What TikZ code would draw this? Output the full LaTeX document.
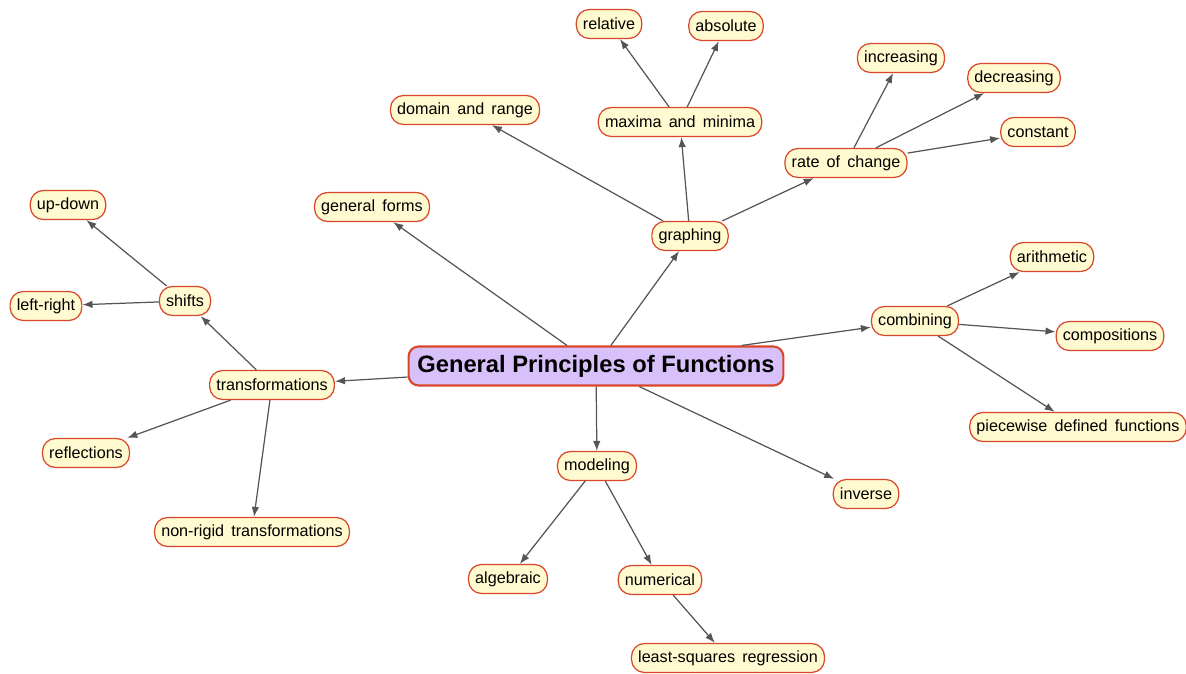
\documentclass[tikz,border=0pt]{standalone}
\usepackage{fontspec}
\setmainfont{Liberation Sans}[WordSpace=1.6]
\newfontfamily\hubfont{Liberation Sans}
\usetikzlibrary{arrows.meta}
\definecolor{leaffill}{HTML}{FFFACF}
\definecolor{hubfill}{HTML}{D8C0FB}
\definecolor{rim}{HTML}{D9472B}
\definecolor{wire}{HTML}{555555}
\begin{document}
\begin{tikzpicture}[x=0.02cm, y=-0.02cm,
        topic/.style={draw=rim, fill=leaffill, line width=0.7pt, rounded corners=0.26cm,
            minimum height=0.58cm, inner xsep=3.8pt, font=\fontsize{9.2}{11}\selectfont},
        hub/.style={draw=rim, fill=hubfill, line width=1.2pt, rounded corners=0.2cm,
            minimum height=0.78cm, inner xsep=5pt, font=\hubfont\fontsize{13.5}{16}\selectfont\bfseries},
        link/.style={draw=wire, line width=0.7pt, -{Latex[length=0.2cm, width=0.15cm]}}]
        \useasboundingbox (0, 0) rectangle (1186, 673);
        \node [hub] (main) at (596, 366) {General Principles of Functions};
        \node [topic] (relative) at (609, 24) {relative};
        \node [topic] (absolute) at (726, 26) {absolute};
        \node [topic] (maxmin) at (680, 122) {maxima and minima};
        \node [topic] (domain) at (465, 110) {domain and range};
        \node [topic] (increasing) at (901, 58) {increasing};
        \node [topic] (decreasing) at (1014, 78) {decreasing};
        \node [topic] (constant) at (1038, 132) {constant};
        \node [topic] (rate) at (846, 163) {rate of change};
        \node [topic] (forms) at (372, 207) {general forms};
        \node [topic] (graphing) at (690, 236) {graphing};
        \node [topic] (updown) at (68, 205) {up-down};
        \node [topic] (leftright) at (46, 306) {left-right};
        \node [topic] (shifts) at (185, 301) {shifts};
        \node [topic] (arithmetic) at (1052, 257) {arithmetic};
        \node [topic] (combining) at (915, 321) {combining};
        \node [topic] (compositions) at (1110, 336) {compositions};
        \node [topic] (transform) at (272, 385) {transformations};
        \node [topic] (piecewise) at (1078, 427) {piecewise defined functions};
        \node [topic] (reflections) at (86, 453) {reflections};
        \node [topic] (modeling) at (597, 466) {modeling};
        \node [topic] (inverse) at (866, 494) {inverse};
        \node [topic] (nonrigid) at (252, 532) {non-rigid transformations};
        \node [topic] (algebraic) at (508, 579) {algebraic};
        \node [topic] (numerical) at (660, 580) {numerical};
        \node [topic] (leastsq) at (728, 658) {least-squares regression};
        \draw [link] (main) -- (forms);
        \draw [link] (main) -- (graphing);
        \draw [link] (main) -- (combining);
        \draw [link] (main) -- (transform);
        \draw [link] (main) -- (modeling);
        \draw [link] (main) -- (inverse);
        \draw [link] (graphing) -- (domain);
        \draw [link] (graphing) -- (maxmin);
        \draw [link] (graphing) -- (rate);
        \draw [link] (maxmin) -- (relative);
        \draw [link] (maxmin) -- (absolute);
        \draw [link] (rate) -- (increasing);
        \draw [link] (rate) -- (decreasing);
        \draw [link] (rate) -- (constant);
        \draw [link] (combining) -- (arithmetic);
        \draw [link] (combining) -- (compositions);
        \draw [link] (combining) -- (piecewise);
        \draw [link] (transform) -- (shifts);
        \draw [link] (transform) -- (reflections);
        \draw [link] (transform) -- (nonrigid);
        \draw [link] (shifts) -- (updown);
        \draw [link] (shifts) -- (leftright);
        \draw [link] (modeling) -- (algebraic);
        \draw [link] (modeling) -- (numerical);
        \draw [link] (numerical) -- (leastsq);
    \end{tikzpicture}
\end{document}
